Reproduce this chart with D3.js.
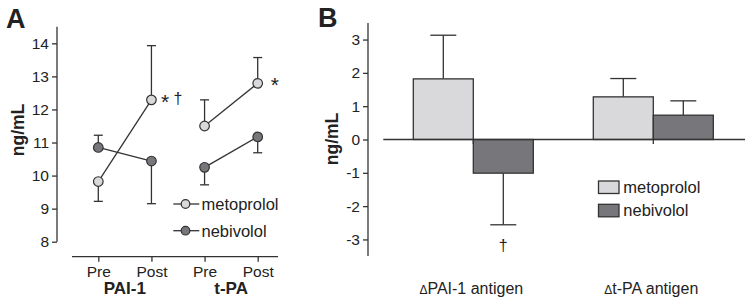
<!DOCTYPE html>
<html>
<head>
<meta charset="utf-8">
<script src="https://cdn.jsdelivr.net/npm/d3@7"></script>
<style>
  body { margin: 0; background: #fff; }
  svg text { font-family: "Liberation Sans", Arial, sans-serif; fill: #222; }
</style>
</head>
<body>
<div id="chart"></div>
<script>
// panel A data (ng/mL)
var timepoints = ["PAI-1 Pre", "PAI-1 Post", "t-PA Pre", "t-PA Post"];
var tickNamesA = ["Pre", "Post", "Pre", "Post"];
var groupsA = ["PAI-1", "t-PA"];
var metoMean = [9.82, 12.29, 11.5, 12.79];
var metoErr  = [9.22, 13.93, 12.29, 13.57];
var nebiMean = [10.85, 10.44, 10.25, 11.17];
var nebiErr  = [11.22, 9.15, 9.72, 10.69];

// panel B data (change, ng/mL)
var categoriesB = ["\u0394PAI-1 antigen", "\u0394t-PA antigen"];
var seriesB = ["metoprolol", "nebivolol"];
var deltaMeto = [1.82, 1.28];
var deltaMetoErr = [3.13, 1.83];
var deltaNebi = [-1.01, 0.73];
var deltaNebiErr = [-2.56, 1.16];

var lightFill = "#d9d9db";
var darkFill = "#77777b";
var ink = "#333";

const svg = d3.select("#chart").append("svg")
    .attr("width", 750)
    .attr("height", 308);

// ---------- Panel A ----------
var yA = d3.scaleLinear().domain([8, 14.5]).range([241.7, 26.8]);
var xA = d3.scalePoint().domain(timepoints).range([98.3, 257.7]);
var axisXA = 57;

svg.append("text").attr("x", 6).attr("y", 27.5)
    .style("font-size", "27px").style("font-weight", "bold").text("A");

const gyA = svg.append("g").attr("transform", `translate(${axisXA},0)`)
    .call(d3.axisLeft(yA).tickValues([8, 9, 10, 11, 12, 13, 14]).tickSize(5).tickPadding(3).tickFormat(d3.format("d")));
gyA.select(".domain").attr("d", `M0,${yA(14.5)}V${yA(8)}`);

// x axis as a separate baseline
const gxA = svg.append("g").attr("transform", "translate(0,256.7)")
    .call(d3.axisBottom(xA).tickSize(5).tickPadding(4).tickFormat((d, i) => tickNamesA[i]));
gxA.select(".domain").attr("d", "M72,0H278");

[gyA, gxA].forEach(g => {
  g.selectAll("path, line").attr("stroke", ink).attr("stroke-width", 1.3);
  g.selectAll("text").style("font-size", "15.5px").attr("fill", "#222")
      .style("font-family", "'Liberation Sans', Arial, sans-serif");
});

groupsA.forEach((g, i) => {
  var cx = (xA(timepoints[i * 2]) + xA(timepoints[i * 2 + 1])) / 2;
  svg.append("text").attr("x", cx).attr("y", 294)
      .attr("text-anchor", "middle")
      .style("font-size", "17px").style("font-weight", "bold").text(g);
});

svg.append("text")
    .attr("transform", "translate(24,130) rotate(-90)")
    .attr("text-anchor", "middle")
    .style("font-size", "17.5px").style("font-weight", "bold").text("ng/mL");

var seriesA = [
  { name: "metoprolol", mean: metoMean, err: metoErr, fill: lightFill },
  { name: "nebivolol", mean: nebiMean, err: nebiErr, fill: darkFill }
];

seriesA.forEach(s => {
  // error bars
  s.mean.forEach((m, i) => {
    var x = xA(timepoints[i]);
    svg.append("line").attr("x1", x).attr("x2", x)
        .attr("y1", yA(m)).attr("y2", yA(s.err[i]))
        .attr("stroke", ink).attr("stroke-width", 1.3);
    svg.append("line").attr("x1", x - 4.5).attr("x2", x + 4.5)
        .attr("y1", yA(s.err[i])).attr("y2", yA(s.err[i]))
        .attr("stroke", ink).attr("stroke-width", 1.3);
  });
  // connecting lines per group
  [0, 2].forEach(j => {
    svg.append("line")
        .attr("x1", xA(timepoints[j])).attr("y1", yA(s.mean[j]))
        .attr("x2", xA(timepoints[j + 1])).attr("y2", yA(s.mean[j + 1]))
        .attr("stroke", ink).attr("stroke-width", 1.3);
  });
});

seriesA.forEach(s => {
  svg.append("g").selectAll("circle")
      .data(s.mean)
      .enter().append("circle")
      .attr("cx", (d, i) => xA(timepoints[i]))
      .attr("cy", d => yA(d))
      .attr("r", 4.8)
      .attr("fill", s.fill)
      .attr("stroke", ink)
      .attr("stroke-width", 1.2);
});

// significance marks
svg.append("text").attr("x", xA(timepoints[1]) + 9.5).attr("y", yA(metoMean[1]) + 9)
    .style("font-size", "21px").text("*");
svg.append("text").attr("x", xA(timepoints[1]) + 22).attr("y", yA(metoMean[1]) + 4)
    .style("font-size", "16px").text("\u2020");
svg.append("text").attr("x", xA(timepoints[3]) + 13).attr("y", yA(metoMean[3]) + 9)
    .style("font-size", "21px").text("*");

// legend A
seriesA.forEach((s, i) => {
  var ly = 204 + i * 26.7;
  svg.append("line").attr("x1", 173.3).attr("x2", 199.3).attr("y1", ly).attr("y2", ly)
      .attr("stroke", ink).attr("stroke-width", 1.3);
  svg.append("circle").attr("cx", 185.5).attr("cy", ly).attr("r", 4.3)
      .attr("fill", s.fill).attr("stroke", ink).attr("stroke-width", 1.2);
  svg.append("text").attr("x", 201.5).attr("y", ly + 6)
      .style("font-size", "16.5px").text(s.name);
});

// ---------- Panel B ----------
var yB = d3.scaleLinear().domain([-3.5, 3.5]).range([256.1, 22.9]);
var xB = d3.scaleBand().domain(categoriesB).range([383.3, 743.3])
    .paddingInner(1 / 3).paddingOuter(1 / 6);
var xSub = d3.scaleBand().domain(seriesB).range([0, xB.bandwidth()]);
var axisXB = 368;

svg.append("text").attr("x", 318).attr("y", 27)
    .style("font-size", "27px").style("font-weight", "bold").text("B");

const gyB = svg.append("g").attr("transform", `translate(${axisXB},0)`)
    .call(d3.axisLeft(yB).tickValues([-3, -2, -1, 0, 1, 2, 3]).tickSize(5).tickPadding(3).tickFormat(d3.format("d")));
gyB.select(".domain").attr("d", `M0,${yB(3.5)}V${yB(-3.5)}`);
gyB.selectAll("path, line").attr("stroke", ink).attr("stroke-width", 1.3);
gyB.selectAll("text").style("font-size", "15.5px").attr("fill", "#222")
    .style("font-family", "'Liberation Sans', Arial, sans-serif")
    .text(d => d < 0 ? "-" + Math.abs(d) : d);

svg.append("text")
    .attr("transform", "translate(338,139) rotate(-90)")
    .attr("text-anchor", "middle")
    .style("font-size", "17.5px").style("font-weight", "bold").text("ng/mL");

var barsB = [
  { name: "metoprolol", vals: deltaMeto, err: deltaMetoErr, fill: lightFill },
  { name: "nebivolol", vals: deltaNebi, err: deltaNebiErr, fill: darkFill }
];

barsB.forEach(s => {
  s.vals.forEach((v, i) => {
    var x0 = xB(categoriesB[i]) + xSub(s.name);
    var cx = x0 + xSub.bandwidth() / 2;
    svg.append("line").attr("x1", cx).attr("x2", cx)
        .attr("y1", yB(v)).attr("y2", yB(s.err[i]))
        .attr("stroke", ink).attr("stroke-width", 1.3);
    svg.append("line").attr("x1", cx - 13).attr("x2", cx + 13)
        .attr("y1", yB(s.err[i])).attr("y2", yB(s.err[i]))
        .attr("stroke", ink).attr("stroke-width", 1.3);
    svg.append("rect")
        .attr("x", x0).attr("width", xSub.bandwidth())
        .attr("y", Math.min(yB(v), yB(0)))
        .attr("height", Math.abs(yB(v) - yB(0)))
        .attr("fill", s.fill).attr("stroke", ink).attr("stroke-width", 1.3);
  });
});

// zero line and small group ticks
svg.append("line").attr("x1", 383.3).attr("x2", 745).attr("y1", yB(0)).attr("y2", yB(0))
    .attr("stroke", ink).attr("stroke-width", 1.3);
categoriesB.forEach(c => {
  var cx = xB(c) + xB.bandwidth() / 2;
  svg.append("line").attr("x1", cx).attr("x2", cx).attr("y1", yB(0)).attr("y2", yB(0) + 4.5)
      .attr("stroke", ink).attr("stroke-width", 1.3);
});

categoriesB.forEach(c => {
  var cx = xB(c) + xB.bandwidth() / 2;
  var t = svg.append("text").attr("x", cx - 2).attr("y", 293.5)
      .attr("text-anchor", "middle").style("font-size", "16px");
  t.append("tspan").style("font-size", "12px").text(c.charAt(0));
  t.append("tspan").text(c.slice(1));
});

// dagger under nebivolol PAI-1
svg.append("text")
    .attr("x", xB(categoriesB[0]) + xSub("nebivolol") + xSub.bandwidth() / 2)
    .attr("y", 251).attr("text-anchor", "middle")
    .style("font-size", "16px").text("\u2020");

// legend B
barsB.forEach((s, i) => {
  var ly = 181 + i * 23.3;
  svg.append("rect").attr("x", 598.5).attr("y", ly).attr("width", 20.5).attr("height", 12.5)
      .attr("fill", s.fill).attr("stroke", ink).attr("stroke-width", 1.3);
  svg.append("text").attr("x", 623.3).attr("y", ly + 12)
      .style("font-size", "16.5px").text(s.name);
});
</script>
</body>
</html>
